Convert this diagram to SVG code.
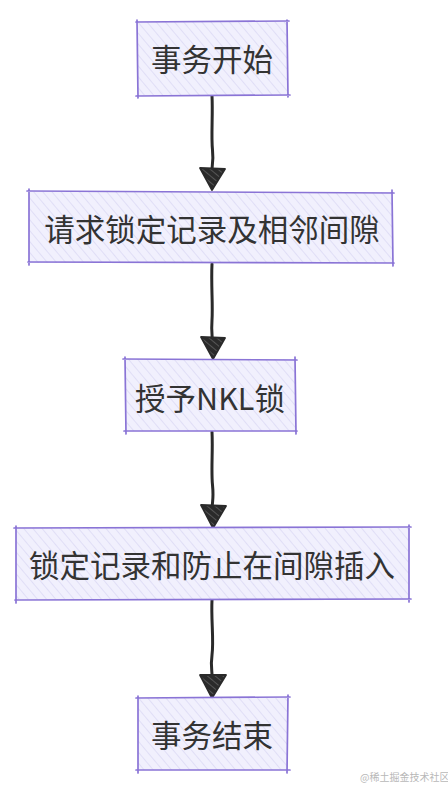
<svg xmlns="http://www.w3.org/2000/svg" width="448" height="787" viewBox="0 0 448 787">
<defs>
<pattern id="hatch" patternUnits="userSpaceOnUse" width="7" height="7" patternTransform="rotate(-40)">
<rect width="7" height="7" fill="#F1F0FD"/>
<line x1="0" y1="0" x2="0" y2="7" stroke="#E0DEF6" stroke-width="2"/>
</pattern>
<pattern id="headhatch" patternUnits="userSpaceOnUse" width="5" height="5" patternTransform="rotate(-50)">
<rect width="5" height="5" fill="#2a2a2a"/>
<line x1="0" y1="0" x2="0" y2="5" stroke="#8a8a8a" stroke-width="0.9"/>
</pattern>
</defs>
<style>
.box{fill:url(#hatch);stroke:none}
.edge{fill:none;stroke:#8A74D6;stroke-width:1.7;stroke-linecap:round}
.lbl{font-family:"Noto Sans CJK SC","Noto Sans",sans-serif;font-size:30.5px;fill:#333;text-anchor:middle;dominant-baseline:central}
.shaft{fill:none;stroke:#2a2a2a;stroke-width:3;stroke-linecap:round}
.head{fill:url(#headhatch);stroke:#2a2a2a;stroke-width:1.8;stroke-linejoin:round}
.wm{font-family:"Noto Sans CJK SC",sans-serif;font-size:10px;fill:#b8b8b8}
</style>
<rect width="448" height="787" fill="#fff"/>
<g id="connectors">
<path class="shaft" d="M212 96 C213 115 211 135 212.5 150 S211 165 212 176"/>
<path class="head" d="M200 168 L225 169 L212 190 Z"/>
<path class="shaft" d="M212 264 C211 285 213 305 212 320 S213 335 212 345"/>
<path class="head" d="M201 337 L225 338 L213 359 Z"/>
<path class="shaft" d="M212 432 C213 450 211 470 212.5 485 S212 500 212 512"/>
<path class="head" d="M201 505 L226 506 L213 528 Z"/>
<path class="shaft" d="M212 600 C211 620 214 640 212 655 S213 670 212 682"/>
<path class="head" d="M200 675 L226 675 L212 698 Z"/>
</g>
<g id="n1">
<rect class="box" x="138" y="22" width="149" height="73"/>
<path class="edge" d="M136 22 L289 21 M287 20 L288 97 M290 95 L136 96 M138 98 L137 20"/>
<text class="lbl" x="212" y="58">事务开始</text>
</g>
<g id="n2">
<rect class="box" x="29" y="192" width="363" height="71"/>
<path class="edge" d="M27 191 L394 193 M392 190 L393 266 M394 263 L28 262 M29 265 L29 189"/>
<text class="lbl" x="212" y="228">请求锁定记录及相邻间隙</text>
</g>
<g id="n3">
<rect class="box" x="125" y="359" width="170" height="72"/>
<path class="edge" d="M123 359 L297 360 M295 357 L296 434 M297 431 L124 431 M126 434 L125 357"/>
<text class="lbl" x="210" y="397">授予NKL锁</text>
</g>
<g id="n4">
<rect class="box" x="16" y="528" width="393" height="71"/>
<path class="edge" d="M14 528 L411 527 M409 525 L409 602 M411 599 L15 600 M16 603 L16 526"/>
<text class="lbl" x="212" y="564">锁定记录和防止在间隙插入</text>
</g>
<g id="n5">
<rect class="box" x="138" y="698" width="150" height="72"/>
<path class="edge" d="M136 698 L290 697 M288 695 L287 773 M290 770 L136 770 M138 773 L138 696"/>
<text class="lbl" x="212" y="734">事务结束</text>
</g>
<text class="wm" x="360" y="781">@稀土掘金技术社区</text>
</svg>
